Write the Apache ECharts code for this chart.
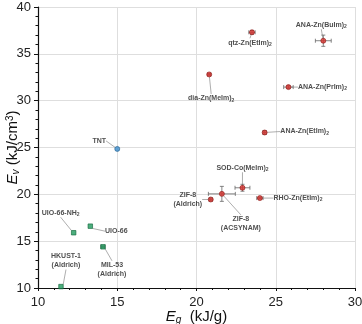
<!DOCTYPE html>
<html>
<head>
<meta charset="utf-8">
<script src="https://cdn.jsdelivr.net/npm/echarts@6/dist/echarts.min.js"></script>
<style>
  html, body { margin: 0; padding: 0; background: #fff; }
  #chart { width: 362px; height: 324px; }
</style>
</head>
<body>
<div id="chart"></div>
<script>
// data
const names = ['TNT', 'qtz-Zn(EtIm)2', 'ANA-Zn(BuIm)2', 'dia-Zn(MeIm)2', 'ANA-Zn(PrIm)2',
    'ANA-Zn(EtIm)2', 'SOD-Co(MeIm)2', 'ZIF-8\n(ACSYNAM)', 'ZIF-8\n(Aldrich)', 'RHO-Zn(EtIm)2',
    'UIO-66-NH2', 'UIO-66', 'MIL-53\n(Aldrich)', 'HKUST-1\n(Aldrich)'];
const eg = [15.0, 23.5, 28.0, 20.8, 25.8, 24.3, 22.9, 21.6, 20.9, 24.0, 12.25, 13.3, 14.1, 11.45];
const ev = [24.85, 37.3, 36.4, 32.8, 31.45, 26.6, 20.7, 20.05, 19.45, 19.6, 15.9, 16.6, 14.4, 10.15];
const egErr = [0, 0.2, 0.5, 0.1, 0.3, 0.1, 0.47, 0.85, 0.1, 0.2, 0, 0, 0.13, 0];
const evErr = [0, 0.2, 0.6, 0.1, 0.15, 0.2, 0.37, 0.8, 0.15, 0.1, 0, 0, 0.1, 0];
const group = ['tnt', 'zif', 'zif', 'zif', 'zif', 'zif', 'zif', 'zif', 'zif', 'zif', 'mof', 'mof', 'mof', 'mof'];
const xTicks = [10, 15, 20, 25, 30];
const yTicks = [10, 15, 20, 25, 30, 35, 40];

// label offsets (px) and group styles
const labelDx = [-18, -2, -2, 2, 34, 40, 0, 19, -23, 38, -13, 26, 9, 5];
const labelDy = [-8, 10.5, -16, 24, 0, -1, -20, 30, 0, 0, -20, 5, 23, -26];
const groupColor = { tnt: '#3b8ccc', zif: '#d8322e', mof: '#1f9a5c' };
const groupBorder = { tnt: '#24618f', zif: '#8e1a18', mof: '#12663b' };
const groupSymbol = { tnt: 'circle', zif: 'circle', mof: 'rect' };

const chart = echarts.init(document.getElementById('chart'));

function richName(n) {
    return n.split('\n').map(function (line) {
        return line.replace(/\)2$/, '){s|2}').replace(/NH2$/, 'NH{s|2}');
    }).join('\n');
}

const points = names.map(function (n, i) {
    return {
        name: n,
        value: [eg[i], ev[i]],
        symbol: groupSymbol[group[i]],
        symbolSize: group[i] === 'mof' ? 4.5 : 5,
        itemStyle: { color: groupColor[group[i]], borderColor: groupBorder[group[i]], borderWidth: 0.8 }
    };
});

const errData = names.map(function (n, i) {
    return [eg[i], ev[i], egErr[i], evErr[i]];
});

const option = {
    animation: false,
    grid: { left: 38, right: 7, top: 7, bottom: 36, containLabel: false, outerBoundsMode: 'none' },
    xAxis: {
        type: 'value', min: xTicks[0], max: xTicks[xTicks.length - 1], interval: 5,
        name: '{i|E}{sub|g}{n|  (kJ/g)}',
        nameLocation: 'middle', nameGap: 21, nameMoveOverlap: false,
        nameTextStyle: {
            rich: {
                i: { fontFamily: 'Liberation Sans', fontStyle: 'italic', fontSize: 15, color: '#111' },
                sub: { fontFamily: 'Liberation Sans', fontStyle: 'italic', fontSize: 10, color: '#111', verticalAlign: 'bottom', padding: [6, 0, 0, 0] },
                n: { fontFamily: 'Liberation Sans', fontSize: 15, color: '#111' }
            }
        },
        axisLine: { onZero: false, lineStyle: { color: '#111', width: 1.2 } },
        axisTick: { length: 3, lineStyle: { color: '#111' } },
        minorTick: { show: true, splitNumber: 5, length: 2, lineStyle: { color: '#111' } },
        axisLabel: { fontFamily: 'Liberation Sans', fontSize: 13, color: '#222', margin: 8 },
        splitLine: { show: true, lineStyle: { color: '#dedede', width: 1 } }
    },
    yAxis: {
        type: 'value', min: yTicks[0], max: yTicks[yTicks.length - 1], interval: 5,
        name: '{i|E}{sub|v}{n| (kJ/cm}{sup|3}{n|)}',
        nameLocation: 'middle', nameRotate: 90, nameGap: 17, nameMoveOverlap: false,
        nameTextStyle: {
            rich: {
                i: { fontFamily: 'Liberation Sans', fontStyle: 'italic', fontSize: 15, color: '#111' },
                sub: { fontFamily: 'Liberation Sans', fontStyle: 'italic', fontSize: 10, color: '#111', verticalAlign: 'bottom', padding: [6, 0, 0, 0] },
                sup: { fontFamily: 'Liberation Sans', fontSize: 10, color: '#111', verticalAlign: 'top', padding: [0, 0, 6, 0] },
                n: { fontFamily: 'Liberation Sans', fontSize: 15, color: '#111' }
            }
        },
        axisLine: { show: true, onZero: false, lineStyle: { color: '#111', width: 1.2 } },
        axisTick: { show: true, length: 4, lineStyle: { color: '#111' } },
        minorTick: { show: true, splitNumber: 5, length: 2.5, lineStyle: { color: '#111' } },
        axisLabel: { fontFamily: 'Liberation Sans', fontSize: 13, color: '#222', margin: 7 },
        splitLine: { show: true, lineStyle: { color: '#dedede', width: 1 } }
    },
    series: [
        {
            type: 'custom',
            z: 1,
            data: errData,
            renderItem: function (params, api) {
                const x = api.value(0), y = api.value(1), dx = api.value(2), dy = api.value(3);
                const c = api.coord([x, y]);
                const cap = 2;
                const children = [];
                const st = { stroke: '#666', lineWidth: 0.8 };
                if (dx > 0) {
                    const l = api.coord([x - dx, y]), r = api.coord([x + dx, y]);
                    children.push({ type: 'line', shape: { x1: l[0], y1: c[1], x2: r[0], y2: c[1] }, style: st });
                    children.push({ type: 'line', shape: { x1: l[0], y1: c[1] - cap, x2: l[0], y2: c[1] + cap }, style: st });
                    children.push({ type: 'line', shape: { x1: r[0], y1: c[1] - cap, x2: r[0], y2: c[1] + cap }, style: st });
                }
                if (dy > 0) {
                    const t = api.coord([x, y + dy]), b = api.coord([x, y - dy]);
                    children.push({ type: 'line', shape: { x1: c[0], y1: t[1], x2: c[0], y2: b[1] }, style: st });
                    children.push({ type: 'line', shape: { x1: c[0] - cap, y1: t[1], x2: c[0] + cap, y2: t[1] }, style: st });
                    children.push({ type: 'line', shape: { x1: c[0] - cap, y1: b[1], x2: c[0] + cap, y2: b[1] }, style: st });
                }
                return { type: 'group', children: children };
            }
        },
        {
            type: 'scatter',
            z: 3,
            data: points,
            label: {
                show: true,
                position: 'inside',
                fontFamily: 'Liberation Sans',
                fontWeight: 'bold',
                fontSize: 7,
                lineHeight: 9,
                color: '#222',
                align: 'center',
                formatter: function (p) { return richName(p.name); },
                rich: {
                    s: { fontFamily: 'Liberation Sans', fontWeight: 'bold', fontSize: 5, color: '#222', verticalAlign: 'bottom', lineHeight: 9, padding: [3, 0, 0, 0] }
                }
            },
            labelLine: { show: true, lineStyle: { color: '#777', width: 0.6 } },
            labelLayout: function (p) {
                return { dx: labelDx[p.dataIndex], dy: labelDy[p.dataIndex] };
            }
        }
    ]
};

chart.setOption(option);
</script>
</body>
</html>
